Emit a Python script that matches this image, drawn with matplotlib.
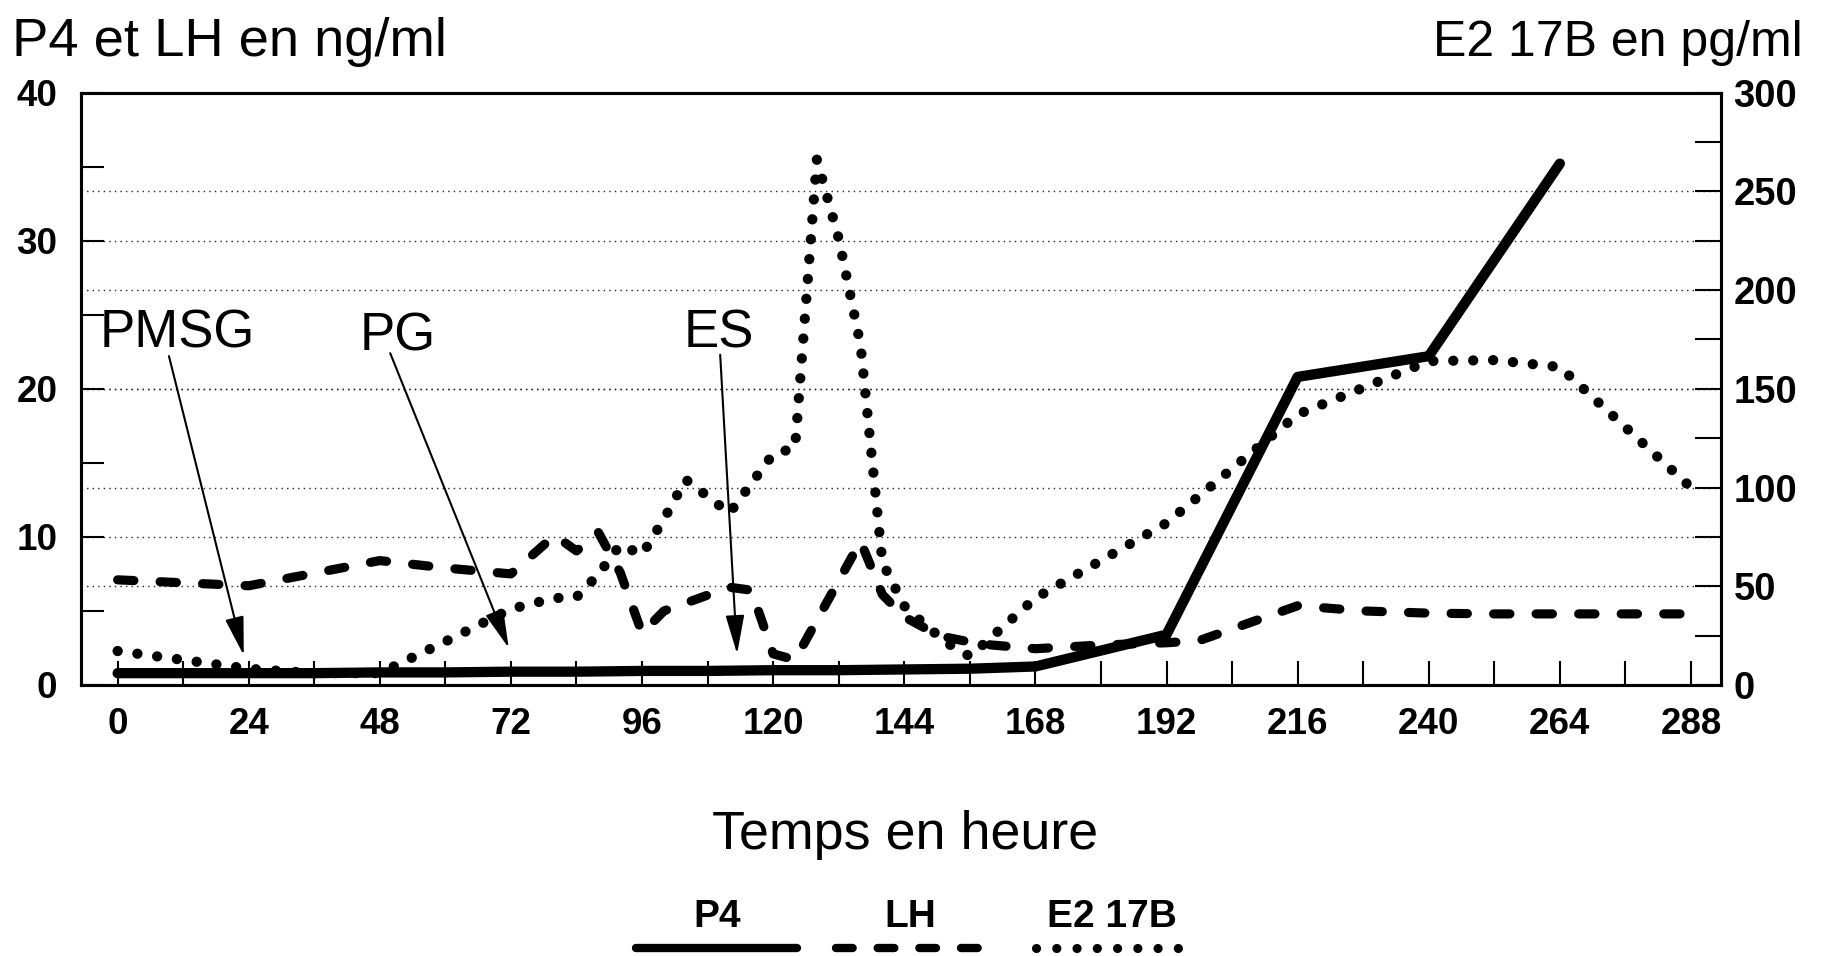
import matplotlib
matplotlib.use('Agg')
import matplotlib.pyplot as plt

plt.rcParams['font.family'] = ['Liberation Sans', 'DejaVu Sans']

# ---------------- data ----------------
p4_hours = [0, 12, 24, 36, 48, 60, 72, 84, 96, 108, 120, 132, 144, 156, 168, 192, 216, 240, 264]
p4_values = [0.8, 0.8, 0.8, 0.8, 0.85, 0.85, 0.9, 0.9, 0.95, 0.95, 1.0, 1.0, 1.05, 1.1, 1.25,
             3.4, 20.8, 22.2, 35.2]

lh_hours = [0, 12, 24, 36, 48, 60, 72, 80, 84, 88, 92, 96, 100, 112, 116, 120, 124, 136, 140,
            144, 148, 152, 156, 160, 168, 180, 192, 198, 216, 228, 240, 252, 264, 276, 288]
lh_values = [7.1, 6.9, 6.7, 7.55, 8.4, 7.9, 7.5, 10.1, 9.05, 10.3, 7.6, 3.5, 5.0, 6.6, 6.4, 2.1,
             1.7, 9.7, 6.1, 4.6, 3.8, 3.2, 2.9, 2.7, 2.45, 2.7, 2.85, 3.0, 5.35, 5.0, 4.85, 4.8,
             4.8, 4.8, 4.8]

e2_hours = [0, 24, 36, 48, 60, 72, 80, 84, 88, 92, 96, 100, 104, 112, 120, 124, 128, 132, 136,
            140, 144, 148, 152, 156, 168, 192, 216, 240, 252, 264, 288]
e2_values = [17.2, 8.2, 6.0, 6.0, 22.0, 38.5, 44.0, 44.5, 56.0, 71.0, 66.0, 84.0, 104.0, 87.0,
             117.0, 120.0, 266.0, 226.0, 172.0, 62.0, 40.0, 30.0, 21.0, 14.5, 44.0, 82.0, 137.0,
             164.0, 164.5, 161.0, 100.0]

x_major = list(range(0, 289, 24))
x_minor = list(range(12, 289, 24))
left_major = [0, 10, 20, 30, 40]
left_minor = [5, 15, 25, 35]
right_major = [0, 50, 100, 150, 200, 250, 300]
right_minor = [25, 75, 125, 175, 225, 275]

series_names = ['P4', 'LH', 'E2 17B']
annotations = [('PMSG', (10.96, 22.81), (9.4, 22.2), (23.1, 2.0)),
               ('PG', (51.2, 22.6), (49.9, 22.4), (71.6, 2.5)),
               ('ES', (110.0, 22.8), (110.3, 22.3), (113.4, 2.1))]

# ---------------- figure ----------------
W, H = 1826, 956
fig = plt.figure(figsize=(W / 100, H / 100), dpi=100)
L, R, T, B = 81, 1721, 92.5, 685
ax = fig.add_axes([L / W, 1 - B / H, (R - L) / W, (B - T) / H])
ax2 = ax.twinx()
ax.set_zorder(ax2.get_zorder() + 1)
ax.patch.set_visible(False)

ax.set_xlim(-6.7, 293.5)
ax.set_ylim(0, 40)
ax2.set_ylim(0, 300)

grid_kw = dict(color='#222222', lw=1.0, linestyle=(0, (1, 3)))
ax.set_yticks(left_major, [str(v) for v in left_major], fontweight='bold')
ax.set_yticks(left_minor, minor=True)
ax2.set_yticks(right_major, [str(v) for v in right_major], fontweight='bold')
ax2.set_yticks(right_minor, minor=True)
ax.set_xticks(x_major, [str(v) for v in x_major], fontweight='bold')
ax.set_xticks(x_minor, minor=True)
ax.yaxis.grid(True, which='major', **grid_kw)
ax2.yaxis.grid(True, which='major', **grid_kw)

ax.tick_params(axis='x', which='both', direction='in', length=17, width=1.5, pad=16,
               labelsize=26.5, top=False)
ax.tick_params(axis='y', which='both', direction='in', length=16.5, width=1.5, pad=17,
               labelsize=26.5)
ax2.tick_params(axis='y', which='both', direction='in', length=19, width=1.5, pad=9,
                labelsize=27.5)
for a in (ax, ax2):
    for s in a.spines.values():
        s.set_linewidth(2.2)

# series
ax2.plot(e2_hours, e2_values, color='black', lw=7.4, linestyle=(0, (0.01, 1.929)),
         dash_capstyle='round', dash_joinstyle='round')
ax.plot(lh_hours, lh_values, color='black', lw=6.6, linestyle=(0, (1.78, 2.86)),
        dash_capstyle='round', dash_joinstyle='round', zorder=3)
ax.plot(p4_hours, p4_values, color='black', lw=7.4, solid_capstyle='round',
        solid_joinstyle='round', zorder=4)

# annotations
for name, txt_xy, tail, tip in annotations:
    ax.text(txt_xy[0], txt_xy[1], name, ha='center', va='baseline', fontsize=38, zorder=6)
    ax.annotate('', xy=tip, xytext=tail,
                arrowprops=dict(arrowstyle='-|>,head_length=1.2,head_width=0.29', lw=1.5,
                                color='black', shrinkA=0, shrinkB=0, mutation_scale=20),
                zorder=6)

# titles
fig.text(11.6 / W, 1 - 56 / H, 'P4 et LH en ng/ml', ha='left', va='baseline', fontsize=39.2)
fig.text(1802.6 / W, 1 - 56 / H, 'E2 17B en pg/ml', ha='right', va='baseline', fontsize=36)
fig.text(905 / W, 1 - 849 / H, 'Temps en heure', ha='center', va='baseline', fontsize=38.8)

# legend (labels above their line samples)
lax = fig.add_axes([0, 0, 1, 1])
lax.set_xlim(0, W)
lax.set_ylim(H, 0)
lax.axis('off')
lax.patch.set_visible(False)
leg_y = 948
leg_label_y = 927
leg_items = [
    (series_names[0], 717, (636, 797), dict(lw=6.0, solid_capstyle='round')),
    (series_names[1], 910, (836, 978), dict(lw=6.0, linestyle=(0, (2.0, 3.0)),
                                         dash_capstyle='round')),
    (series_names[2], 1112, (1036, 1180), dict(lw=6.6, linestyle=(0, (0.01, 2.2)),
                                            dash_capstyle='round')),
]
for name, cx, (x0, x1), kw in leg_items:
    lax.plot([x0, x1], [leg_y, leg_y], color='black', **kw)
    lax.text(cx, leg_label_y, name, ha='center', va='baseline', fontsize=28,
             fontweight='bold')

fig.savefig('out.png', dpi=100)
